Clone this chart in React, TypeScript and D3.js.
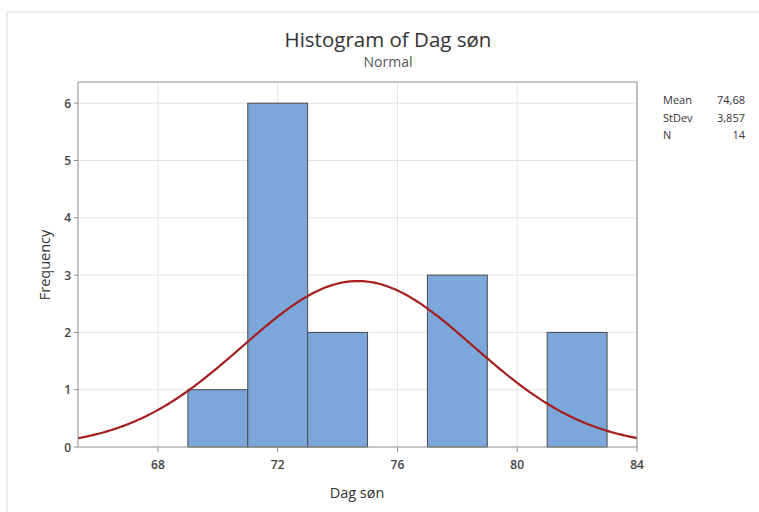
import React from "react";
import * as d3 from "d3";

const binStarts = [69, 71, 73, 75, 77, 79, 81];
const binCounts = [1, 6, 2, 0, 3, 0, 2];
const binWidth = 2;
const xTicks = [68, 72, 76, 80, 84];
const yTicks = [0, 1, 2, 3, 4, 5, 6];
const statLabels = ["Mean", "StDev", "N"];
const statValues = ["74,68", "3,857", "14"];
const mean = 74.68;
const sd = 3.857;
const n = 14;

const W = 759, H = 512;
const M = { left: 78, right: 637, top: 82, bottom: 447 };
const font = "'Open Sans', 'Noto Sans', sans-serif";

export default function App() {
  const x = d3.scaleLinear().domain([65.33, 84]).range([M.left, M.right]);
  const y = d3.scaleLinear().domain([0, 6.37]).range([M.bottom, M.top]);
  const pdf = (v: number) =>
    (n * binWidth) / (sd * Math.sqrt(2 * Math.PI)) * Math.exp(-0.5 * ((v - mean) / sd) ** 2);
  const xs = d3.range(0, 301).map((i) => 65.33 + (84 - 65.33) * (i / 300));
  const line = d3.line<number>().x((v) => x(v)).y((v) => y(pdf(v)))(xs) || "";
  const axisColor = "#8e8e8e";
  const gridColor = "#e4e4e4";
  return (
    <svg width={W} height={H} style={{ position: "absolute", left: 0, top: 0, background: "#fff" }}>
      <rect x={0} y={0} width={W} height={H} fill="#fff" />
      <line x1={7} y1={12} x2={W} y2={12} stroke="#d9d9d9" />
      <line x1={7} y1={12} x2={7} y2={H} stroke="#d9d9d9" />
      <text x={388} y={47} textAnchor="middle" fontFamily={font} fontSize={20.5} fill="#333">Histogram of Dag søn</text>
      <text x={388} y={67} textAnchor="middle" fontFamily={font} fontSize={14} fill="#555">Normal</text>
      {xTicks.map((t) => (
        <line key={"gx" + t} x1={x(t)} x2={x(t)} y1={M.top} y2={M.bottom} stroke={gridColor} />
      ))}
      {yTicks.filter((t) => t > 0).map((t) => (
        <line key={"gy" + t} x1={M.left} x2={M.right} y1={y(t)} y2={y(t)} stroke={gridColor} />
      ))}
      {binStarts.map((s, i) =>
        binCounts[i] > 0 ? (
          <rect key={"b" + i} x={x(s)} y={y(binCounts[i])} width={x(s + binWidth) - x(s)} height={y(0) - y(binCounts[i])}
            fill="#7ba7da" stroke="#4a4a4a" strokeWidth={1} />
        ) : null
      )}
      <path d={line} fill="none" stroke="#a51d1d" strokeWidth={2.2} />
      <rect x={M.left} y={M.top} width={M.right - M.left} height={M.bottom - M.top} fill="none" stroke={axisColor} />
      {yTicks.map((t) => (
        <g key={"ty" + t}>
          <line x1={M.left - 4} x2={M.left} y1={y(t)} y2={y(t)} stroke={axisColor} />
          <text x={M.left - 7} y={y(t) + 4.5} textAnchor="end" fontFamily={font} fontSize={12} fontWeight={600} fill="#444">{t}</text>
        </g>
      ))}
      {xTicks.map((t) => (
        <g key={"tx" + t}>
          <line x1={x(t)} x2={x(t)} y1={M.bottom} y2={M.bottom + 5} stroke={axisColor} />
          <text x={x(t)} y={M.bottom + 22} textAnchor="middle" fontFamily={font} fontSize={12} fontWeight={600} fill="#444">{t}</text>
        </g>
      ))}
      <text x={357} y={498} textAnchor="middle" fontFamily={font} fontSize={14.5} fill="#333">Dag søn</text>
      <text transform={`translate(50,265) rotate(-90)`} textAnchor="middle" fontFamily={font} fontSize={14.5} fill="#333">Frequency</text>
      {statLabels.map((l, i) => (
        <g key={"s" + i}>
          <text x={663} y={104 + i * 17.5} fontFamily={font} fontSize={11} fill="#333">{l}</text>
          <text x={745} y={104 + i * 17.5} textAnchor="end" fontFamily={font} fontSize={11} fill="#333">{statValues[i]}</text>
        </g>
      ))}
    </svg>
  );
}
